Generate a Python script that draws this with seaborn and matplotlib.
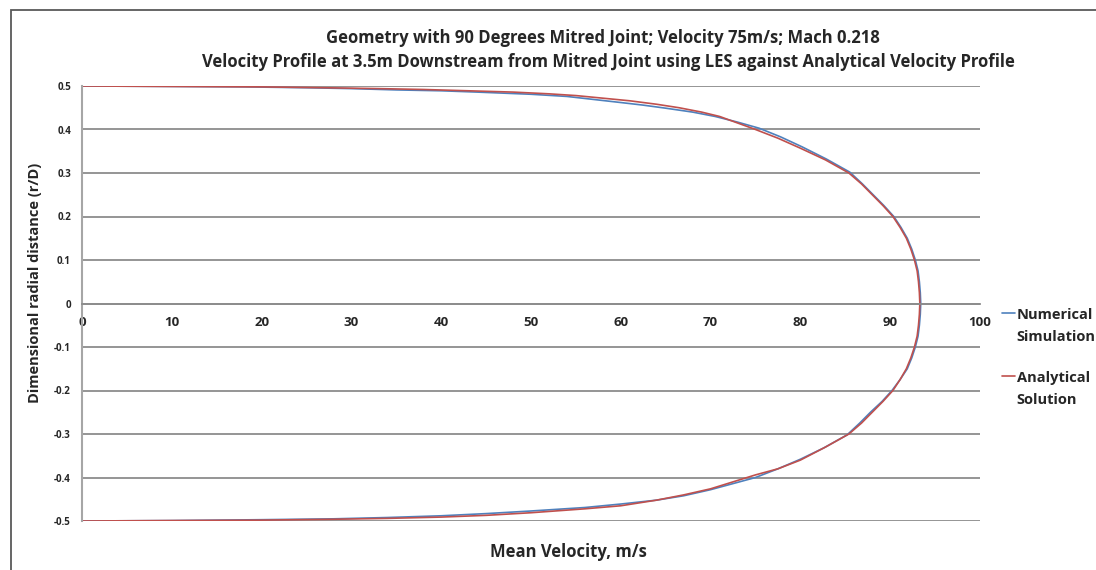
import numpy as np
import pandas as pd
import matplotlib
matplotlib.use("Agg")
import matplotlib.pyplot as plt
import seaborn as sns
from matplotlib.patches import Rectangle

# analytical profile (r/D, m/s)
analytical_r = [0.5, 0.499, 0.498, 0.496, 0.494, 0.492, 0.489, 0.486, 0.482, 0.478, 0.472,
                0.466, 0.458, 0.45, 0.44, 0.43, 0.415, 0.40, 0.38, 0.357, 0.33, 0.30,
                0.275, 0.25, 0.225, 0.20, 0.175, 0.15, 0.125, 0.10, 0.075, 0.05, 0.025, 0.0,
                -0.025, -0.05, -0.075, -0.10, -0.125, -0.15, -0.175, -0.20, -0.225, -0.25,
                -0.275, -0.30, -0.33, -0.36, -0.38, -0.394,
                -0.41, -0.426, -0.44, -0.452, -0.465, -0.472, -0.481, -0.487, -0.491,
                -0.494, -0.496, -0.498, -0.499, -0.5]
analytical_v = [0, 10, 20, 27, 33, 38, 43, 48, 52, 55, 58,
                61, 64, 66.5, 69, 71, 73, 75, 77.5, 80, 82.8, 85.4,
                86.8, 88, 89.2, 90.3, 91.1, 91.8, 92.3, 92.7, 93.0, 93.15, 93.25, 93.3,
                93.25, 93.15, 93.0, 92.7, 92.3, 91.8, 91.1, 90.3, 89.2, 88,
                86.8, 85.4, 82.8, 80, 77.5, 75,
                72.5, 70, 67, 64, 60, 56, 50, 45, 40,
                34, 28, 20, 10, 0]

# numerical simulation (LES)
numerical_r = [0.5, 0.499, 0.498, 0.496, 0.494, 0.491, 0.489, 0.486, 0.481, 0.476, 0.469,
               0.462, 0.456, 0.449, 0.44, 0.43, 0.417, 0.403, 0.383, 0.36, 0.332, 0.302,
               0.275, 0.25, 0.225, 0.20, 0.175, 0.15, 0.125, 0.10, 0.075, 0.05, 0.025, 0.0,
               -0.025, -0.05, -0.075, -0.10, -0.125, -0.15, -0.175, -0.20, -0.225, -0.25,
               -0.275, -0.302, -0.332, -0.358, -0.38, -0.40,
               -0.414, -0.428, -0.442, -0.452, -0.461, -0.469, -0.477, -0.483, -0.488,
               -0.492, -0.495, -0.497, -0.499, -0.5]
numerical_v = [0, 10, 18, 25, 30, 35, 40, 44, 50, 54, 57,
               60, 62.5, 65, 68, 70.5, 73, 75.4, 77.8, 80.2, 82.9, 85.5,
               86.9, 88.1, 89.3, 90.4, 91.2, 91.9, 92.4, 92.8, 93.1, 93.25, 93.35, 93.4,
               93.35, 93.25, 93.1, 92.8, 92.4, 91.9, 91.1, 90.2, 89.1, 87.8,
               86.6, 85.2, 82.6, 80, 77.5, 75,
               72.5, 70, 67, 64, 60, 56, 50, 45, 40,
               34, 28, 20, 10, 0]

series_names = ["Numerical\nSimulation", "Analytical\nSolution"]
colors = ["#4F81BD", "#C0504D"]

y_ticks = [0.5, 0.4, 0.3, 0.2, 0.1, 0, -0.1, -0.2, -0.3, -0.4, -0.5]
x_ticks = [0, 10, 20, 30, 40, 50, 60, 70, 80, 90, 100]

df = pd.concat([
    pd.DataFrame({"v": numerical_v, "r": numerical_r, "series": series_names[0]}),
    pd.DataFrame({"v": analytical_v, "r": analytical_r, "series": series_names[1]}),
], ignore_index=True)

sns.set_style("white")
plt.rcParams["font.family"] = ["Open Sans", "DejaVu Sans"]

fig = plt.figure(figsize=(10.96, 5.70), dpi=100)
ax = fig.add_axes([82 / 1096, 49 / 570, 898 / 1096, 435 / 570])

sns.lineplot(data=df, x="v", y="r", hue="series", palette=colors, sort=False,
             estimator=None, linewidth=1.2, ax=ax, legend=False)

# x axis drawn through r = 0 (do this before styling tick labels)
ax.spines["top"].set_visible(False)
ax.spines["right"].set_visible(False)
ax.spines["bottom"].set_position(("data", 0))
ax.spines["bottom"].set_color("#8c8c8c")
ax.spines["bottom"].set_linewidth(1.3)
ax.spines["left"].set_color("#a6a6a6")
ax.spines["left"].set_linewidth(1.5)

ax.set_xlim(0, 100)
ax.set_ylim(-0.5, 0.5)
ax.set_yticks(y_ticks)
ax.set_yticklabels([("%g" % t) for t in y_ticks], fontsize=7, fontweight="bold")
ax.set_xticks(x_ticks)
ax.set_xticklabels([str(t) for t in x_ticks], fontsize=9.5, fontweight="bold")
ax.tick_params(axis="x", length=0, pad=9)
ax.tick_params(axis="y", length=0, pad=8)
ax.grid(axis="y", color="#8c8c8c", linewidth=1.3)
ax.grid(axis="x", visible=False)
ax.set_axisbelow(True)

ax.set_xlabel("")
ax.set_ylabel("")
fig.text(568 / 1096, 1 - 552 / 570, "Mean Velocity, m/s", ha="center", va="center",
         fontsize=12, fontweight="bold")
fig.text(35 / 1096, 1 - 283 / 570, "Dimensional radial distance (r/D)", ha="center",
         va="center", rotation=90, fontsize=10.5, fontweight="bold")

fig.text(603 / 1096, 1 - 38 / 570, "Geometry with 90 Degrees Mitred Joint; Velocity 75m/s; Mach 0.218",
         ha="center", va="center", fontsize=12, fontweight="bold")
fig.text(608 / 1096, 1 - 62 / 570,
         "Velocity Profile at 3.5m Downstream from Mitred Joint using LES against Analytical Velocity Profile",
         ha="center", va="center", fontsize=12, fontweight="bold")

handles = [plt.Line2D([], [], color=c, linewidth=1.2) for c in colors]
leg = ax.legend(handles, series_names, loc="upper left", bbox_to_anchor=(1002 / 1096, 1 - 308 / 570),
                bbox_transform=fig.transFigure, frameon=False, handlelength=0.9,
                handletextpad=0.1, labelspacing=1.85, borderaxespad=0, borderpad=0,
                prop={"size": 10.5, "weight": "bold"})
for t in leg.get_texts():
    t.set_linespacing(1.75)
for ln in leg.get_lines():
    ln.set_ydata(np.asarray(ln.get_ydata()) + 10)

fig.add_artist(Rectangle((11 / 1096, -0.1), 1.5, 1.1 - 10 / 570, transform=fig.transFigure,
                         fill=False, edgecolor="#595959", linewidth=1.3))

fig.savefig("out.png", dpi=100)
